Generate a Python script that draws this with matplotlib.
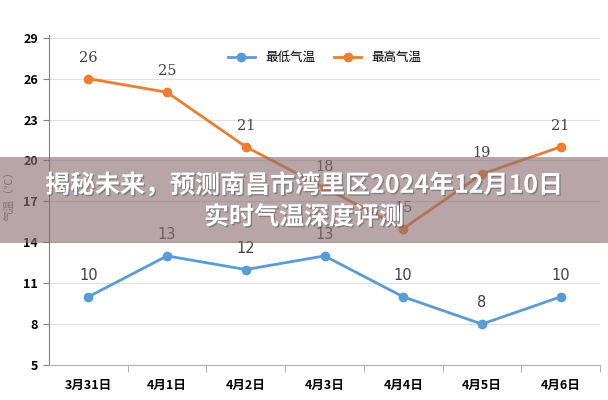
import matplotlib.pyplot as plt
import matplotlib.patches as patches
import matplotlib.patheffects as pe

plt.rcParams['font.family'] = ['Noto Sans CJK SC', 'DejaVu Sans']

# data
dates = ['3月31日', '4月1日', '4月2日', '4月3日', '4月4日', '4月5日', '4月6日']
low_temp = [10, 13, 12, 13, 10, 8, 10]
high_temp = [26, 25, 21, 18, 15, 19, 21]
yticks = [5, 8, 11, 14, 17, 20, 23, 26, 29]

title = '揭秘未来，预测南昌市湾里区2024年12月10日\n实时气温深度评测'

blue = '#5b9bd5'
orange = '#ed7d31'

fig = plt.figure(figsize=(6.08, 4.0), dpi=100)
ax = fig.add_axes([49 / 608, 35 / 400, 551 / 608, 330 / 400])

x = list(range(len(dates)))
ax.plot(x, low_temp, color=blue, lw=2, marker='o', ms=6, label='最低气温', zorder=3)
ax.plot(x, high_temp, color=orange, lw=2, marker='o', ms=6, label='最高气温', zorder=3)

for xi, v in zip(x, low_temp):
    ax.annotate(str(v), (xi, v), xytext=(0, 10), textcoords='offset points',
                ha='center', va='bottom', fontsize=10.5, color='#404040',
                family=['DejaVu Sans'])
for xi, v in zip(x, high_temp):
    ax.annotate(str(v), (xi, v), xytext=(0, 10), textcoords='offset points',
                ha='center', va='bottom', fontsize=10.5, color='#404040',
                family=['DejaVu Serif'])

ax.set_xlim(-0.5, len(dates) - 0.5)
ax.set_ylim(5, 29.2)
ax.set_yticks(yticks)
ax.set_yticklabels([str(t) for t in yticks], fontweight='bold', fontsize=9)
ax.set_xticks(x)
ax.set_xticklabels(dates, fontweight='bold', fontsize=9)
ax.tick_params(axis='x', length=0, pad=10)
ax.set_xticks([i + 0.5 for i in x], minor=True)
ax.tick_params(axis='x', which='minor', length=5, color='#a0a0a0')
ax.tick_params(axis='y', length=4, color='#808080', pad=4)

ax.grid(axis='y', color='#e0e0e0', lw=0.8)
ax.set_axisbelow(True)
for s in ['top', 'right']:
    ax.spines[s].set_visible(False)
ax.spines['left'].set_color('#808080')
ax.spines['bottom'].set_color('#b0b0b0')

ax.set_ylabel('气温（℃）', color='#808080', fontsize=8)
ax.yaxis.set_label_coords(-0.062, 0.52)

ax.legend(loc='upper center', bbox_to_anchor=(0.5, 0.985), ncol=2, frameon=False,
          fontsize=9, handlelength=2.2, columnspacing=1.5)

# title banner across the middle
fig.patches.append(patches.Rectangle((0, 157 / 400), 1, 86 / 400, transform=fig.transFigure,
                                     facecolor='#8c6e73', alpha=0.62, zorder=10))
fig.text(0.5, 1 - 201 / 400, title, ha='center', va='center', fontsize=18,
         fontweight='bold', color='white', linespacing=1.4, zorder=11,
         path_effects=[pe.withSimplePatchShadow(offset=(1, -1), shadow_rgbFace='#555555', alpha=0.5)])

fig.savefig('out.png', dpi=100)
